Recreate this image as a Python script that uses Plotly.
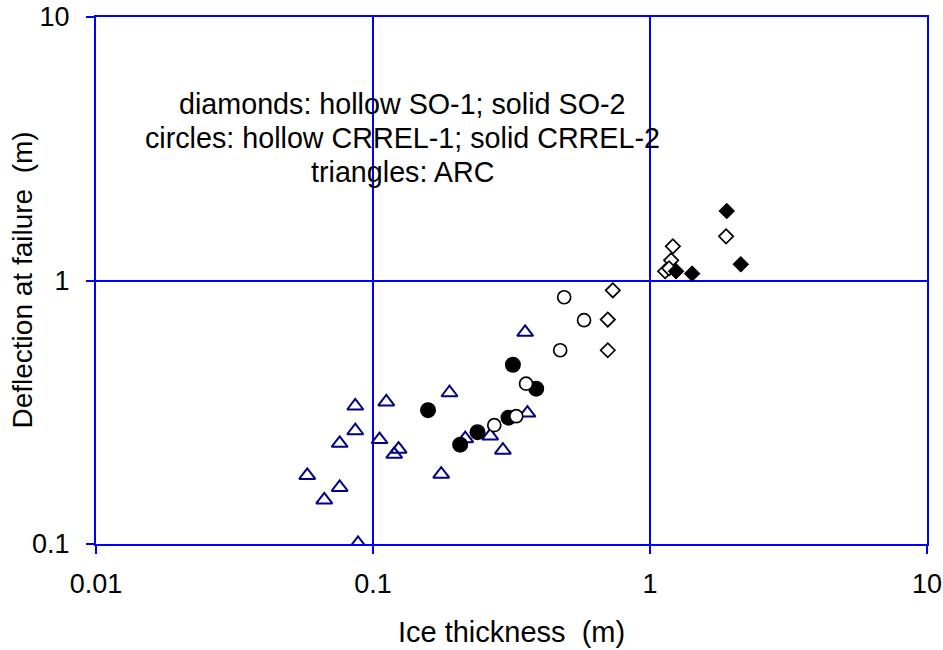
import plotly.graph_objects as go

# Ice thickness (m) and deflection at failure (m) for each test series
arc_thk = [0.0579, 0.0667, 0.0758, 0.0758, 0.0863, 0.0863, 0.1056, 0.1117, 0.1237,
           0.1193, 0.1763, 0.1889, 0.2153, 0.2649, 0.2944, 0.3542, 0.3610, 0.0883]
arc_def = [0.182, 0.147, 0.164, 0.241, 0.334, 0.269, 0.249, 0.346, 0.229,
           0.219, 0.184, 0.375, 0.251, 0.257, 0.227, 0.636, 0.314, 0.1005]

crrel1_thk = [0.274, 0.329, 0.357, 0.474, 0.490, 0.578]
crrel1_def = [0.2825, 0.3055, 0.406, 0.5435, 0.864, 0.707]

crrel2_thk = [0.158, 0.2064, 0.2384, 0.3085, 0.3199, 0.3883]
crrel2_def = [0.322, 0.2382, 0.2657, 0.3015, 0.4789, 0.3885]

so1_thk = [0.734, 0.704, 0.704, 1.209, 1.192, 1.134, 1.172, 1.882]
so1_def = [0.918, 0.711, 0.5435, 1.348, 1.193, 1.084, 1.1125, 1.471]

so2_thk = [1.892, 1.242, 1.419, 2.127]
so2_def = [1.835, 1.084, 1.062, 1.152]

tick_vals_x = [0.01, 0.1, 1, 10]
tick_text_x = ["0.01", "0.1", "1", "10"]
tick_vals_y = [0.1, 1, 10]
tick_text_y = ["0.1", "1", "10"]

note_lines = [
    "diamonds: hollow SO-1; solid SO-2",
    "circles: hollow CRREL-1; solid CRREL-2",
    "triangles: ARC",
]

FONT = "Liberation Sans, Arial, sans-serif"
GRID = "#0000FF"

fig = go.Figure()

fig.add_trace(go.Scatter(
    x=arc_thk, y=arc_def, mode="markers", name="ARC",
    marker=dict(symbol="triangle-up", size=14, color="rgba(0,0,0,0)",
                line=dict(color="#000080", width=2)),
))
fig.add_trace(go.Scatter(
    x=crrel2_thk, y=crrel2_def, mode="markers", name="CRREL-2",
    marker=dict(symbol="circle", size=16, color="black",
                line=dict(color="black", width=0)),
))
fig.add_trace(go.Scatter(
    x=crrel1_thk, y=crrel1_def, mode="markers", name="CRREL-1",
    marker=dict(symbol="circle", size=13, color="white",
                line=dict(color="black", width=1.7)),
))
fig.add_trace(go.Scatter(
    x=so1_thk, y=so1_def, mode="markers", name="SO-1",
    marker=dict(symbol="diamond", size=11, color="white",
                line=dict(color="black", width=1.7)),
))
fig.add_trace(go.Scatter(
    x=so2_thk, y=so2_def, mode="markers", name="SO-2",
    marker=dict(symbol="diamond", size=12, color="black",
                line=dict(color="black", width=1)),
))

axis_common = dict(
    type="log", showgrid=True, gridcolor=GRID, gridwidth=2,
    showline=True, linecolor=GRID, linewidth=2, mirror=True,
    ticks="outside", ticklen=8, tickwidth=2, tickcolor=GRID,
    tickfont=dict(family=FONT, size=27, color="black"),
    zeroline=False, automargin=False,
)

fig.update_xaxes(
    **axis_common, range=[-2, 1],
    tickvals=tick_vals_x, ticktext=tick_text_x, ticklabelstandoff=7,
    title=dict(text="Ice thickness\u00a0 (m)", standoff=23,
               font=dict(family=FONT, size=29, color="black")),
)
fig.update_yaxes(
    **axis_common, range=[-1, 1],
    tickvals=tick_vals_y, ticktext=tick_text_y, ticklabelstandoff=11,
)

# vertical axis title, placed left of the tick labels
fig.add_annotation(
    text="Deflection at failure\u00a0 (m)", xref="paper", yref="paper",
    x=-0.089, y=0.5, xanchor="center", yanchor="middle", textangle=-90,
    showarrow=False, font=dict(family=FONT, size=28, color="black"),
)

for i, line in enumerate(note_lines):
    fig.add_annotation(
        text=line, xref="paper", yref="paper",
        x=0.3686, y=0.8347 - i * 0.0645, xanchor="center", yanchor="middle",
        showarrow=False, font=dict(family=FONT, size=28.7, color="black"),
    )

fig.update_layout(
    width=943, height=650,
    margin=dict(l=96, r=16, t=17, b=106),
    paper_bgcolor="white", plot_bgcolor="white",
    showlegend=False,
)

fig.write_html("out.html")
